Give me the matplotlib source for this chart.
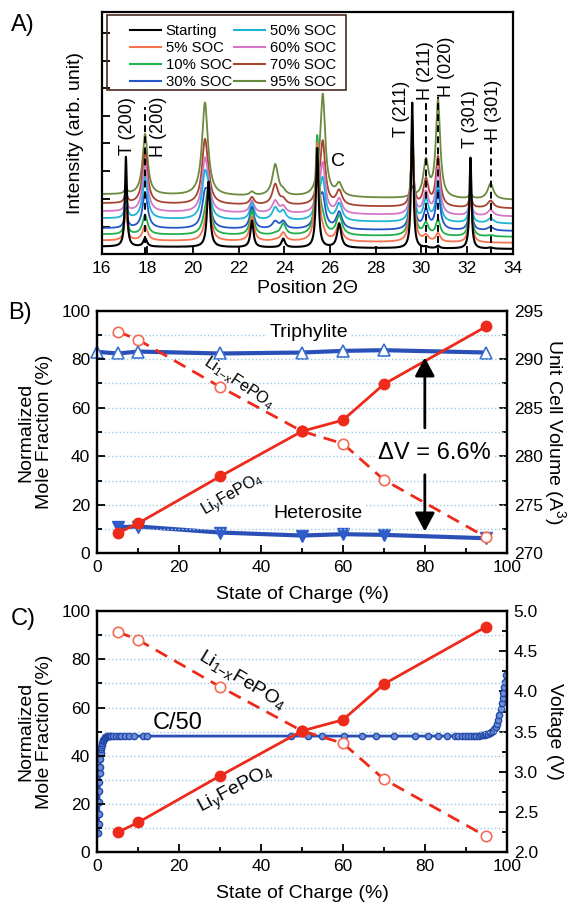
import numpy as np
import matplotlib
matplotlib.use("Agg")
import matplotlib.pyplot as plt
from matplotlib.patches import Rectangle
from matplotlib.lines import Line2D
from matplotlib.ticker import MultipleLocator, FormatStrFormatter

plt.rcParams['font.family'] = ['Liberation Sans', 'DejaVu Sans']
plt.rcParams['mathtext.fontset'] = 'custom'
plt.rcParams['mathtext.rm'] = 'Liberation Sans'
plt.rcParams['mathtext.it'] = 'Liberation Sans:italic'
plt.rcParams['mathtext.default'] = 'regular'

# ---------------- XRD patterns (panel A) ----------------
pattern_labels = ['Starting', '5% SOC', '10% SOC', '30% SOC',
                  '50% SOC', '60% SOC', '70% SOC', '95% SOC']
pattern_colors = ['#000000', '#f5734f', '#22b04c', '#2456c8',
                  '#1fb5d8', '#d776c8', '#a8432f', '#6a8a3e']
base_left = [3.2, 5.7, 8.2, 10.7, 14.8, 17.7, 21.0, 24.7]
base_right = [2.2, 4.7, 7.2, 9.6, 12.6, 15.6, 18.9, 22.4]
width_scale = [1.3, 1.9, 1.9, 1.9, 1.9, 1.9, 1.9, 1.9]

peak_pos = [17.06, 17.90, 20.52, 20.68, 22.58, 23.60, 23.95, 25.44,
            25.68, 26.40, 29.60, 30.20, 30.73, 32.15, 33.03]
peak_hwhm = [0.04, 0.07, 0.08, 0.06, 0.06, 0.08, 0.07, 0.05,
             0.07, 0.08, 0.04, 0.07, 0.06, 0.04, 0.08]
peak_heights = [
    [37, 3.5, 0, 27, 11, 0, 3.6, 41, 0, 10, 60, 0.5, 1, 37.5, 0.5],   # Starting
    [12, 6, 2, 20, 10, 0.5, 3.5, 40, 2, 7, 50, 2.5, 3.5, 20, 0],       # 5%
    [10, 8, 5, 18, 10, 0.5, 4.7, 40, 5, 8, 45, 5, 6.5, 18, 0.5],       # 10%
    [8, 15, 13, 10, 9, 3, 3, 22, 12, 7, 38, 8, 16, 15, 1.5],           # 30%
    [7, 17, 18, 7, 7, 5, 3.5, 14, 16, 7, 33, 9, 16.6, 12, 2],          # 50%
    [5, 20, 21, 5, 5, 5, 2.5, 9, 20, 6, 28, 9, 19, 8, 2.5],            # 60%
    [4, 22, 26, 3, 3, 8.5, 2, 6, 26, 6, 22, 11, 20.5, 5, 3],           # 70%
    [2, 25, 38, 1, 1.5, 13, 1.5, 3, 42, 5, 4, 15, 40, 2, 6.5],         # 95%
]

peak_tags = ['T (200)', 'H (200)', 'T (211)', 'H (211)', 'H (020)', 'T (301)', 'H (301)']
tag_x = [17.13, 18.50, 29.11, 30.16, 31.08, 32.13, 33.18]
tag_y = [40.9, 40.2, 48.5, 63.6, 65.0, 43.7, 47.1]
het_line_x = [17.90, 30.19, 30.73, 33.06]
het_line_top = [60.8, 63.6, 65.0, 47.1]

# ---------------- phase fractions / cell volumes (panels B, C) ----------------
soc = [5, 10, 30, 50, 60, 70, 95]
li1x_frac = [91.4, 88.0, 68.6, 50.3, 45.2, 30.3, 6.6]
liy_frac = [8.3, 12.4, 31.7, 50.3, 54.9, 69.7, 93.5]

tri_vol_soc = [0, 5, 10, 30, 50, 60, 70, 95]
tri_vol = [290.76, 290.59, 290.79, 290.59, 290.69, 290.86, 290.93, 290.69]
het_vol_soc = [5, 10, 30, 50, 60, 70, 95]
het_vol = [272.69, 272.76, 272.14, 271.83, 271.97, 271.90, 271.55]

# C/50 charge curve
volt_soc = [0.25, 0.3, 0.35, 0.4, 0.45, 0.5, 0.55, 0.6, 0.7, 0.8, 0.9, 1.0,
            1.1, 1.2, 1.35, 1.5, 1.65, 1.8, 2.0, 2.2, 2.4, 2.6, 2.8, 3.0,
            3.4, 3.9, 4.5, 5.2, 5.9, 6.7, 7.8, 9.0, 11.2, 12.1, 47.4, 51.5,
            55.0, 60.2, 64.6, 68.1, 72.5, 77.6, 80.8, 83.3, 85.4, 87.4, 88.2,
            89.0, 89.8, 90.6, 91.3, 92.0, 92.6, 93.2, 93.7, 94.2, 94.6, 95.0,
            95.4, 95.8, 96.2, 96.6, 97.0, 97.3, 97.6, 97.9, 98.2, 98.5, 98.8,
            99.0, 99.2, 99.4, 99.6, 99.8]
volt = [2.24, 2.35, 2.48, 2.62, 2.76, 2.88, 2.98, 3.06, 3.16, 3.23, 3.28, 3.31,
        3.34, 3.36, 3.385, 3.40, 3.41, 3.42, 3.43, 3.435, 3.44, 3.442, 3.444, 3.445,
        3.445, 3.445, 3.445, 3.445, 3.445, 3.445, 3.445, 3.445, 3.445, 3.445, 3.445, 3.445,
        3.445, 3.445, 3.445, 3.445, 3.445, 3.445, 3.445, 3.445, 3.445, 3.445, 3.445,
        3.445, 3.446, 3.446, 3.447, 3.448, 3.45, 3.452, 3.455, 3.457, 3.46, 3.465,
        3.47, 3.48, 3.49, 3.51, 3.53, 3.56, 3.60, 3.65, 3.71, 3.78, 3.86,
        3.92, 3.98, 4.05, 4.12, 4.20]

RED = '#ee2a1a'
RED_OPEN = '#f36a55'
BLUE = '#2a50b8'
GRID = '#9ccbe6'

W, H = 577, 907
fig = plt.figure(figsize=(W / 100, H / 100), dpi=100)


def px_axes(left, top, right, bottom):
    return fig.add_axes([left / W, 1 - bottom / H, (right - left) / W, (bottom - top) / H])


def style_ticks(ax):
    ax.tick_params(which='both', direction='in', width=1.3, labelsize=12.5, pad=5)
    ax.tick_params(which='major', length=6)
    ax.tick_params(which='minor', length=3.5)
    for s in ax.spines.values():
        s.set_linewidth(1.6)


# ---------------- Panel A ----------------
axA = px_axes(101.7, 11.7, 512.7, 254.3)
two_theta = np.linspace(16, 34, 3601)


def pattern(i):
    y = np.interp(two_theta, [16, 34], [base_left[i], base_right[i]])
    for p, w, h in zip(peak_pos, peak_hwhm, peak_heights[i]):
        w = w * width_scale[i]
        y = y + h / (1 + ((two_theta - p) / w) ** 2)
    return y


for i in reversed(range(len(pattern_labels))):
    axA.plot(two_theta, pattern(i), color=pattern_colors[i],
             lw=1.5 if i == 0 else 1.3)

axA.vlines(het_line_x, 0, het_line_top, colors='k', lw=1.4, linestyles=(0, (3.5, 2.2)))
for tag, tx, ty in zip(peak_tags, tag_x, tag_y):
    axA.text(tx, ty, tag, rotation=90, ha='center', va='bottom', fontsize=13)
axA.text(26.37, 38.2, 'C', ha='center', va='center', fontsize=14)

axA.set_xlim(16, 34)
axA.set_ylim(0, 100)
axA.xaxis.set_major_locator(MultipleLocator(2))
axA.set_yticks([11.3, 22.8, 34.3, 45.9, 57.0, 68.5, 79.7, 91.2])
axA.set_yticklabels([])
style_ticks(axA)
axA.set_xlabel('Position 2Θ', fontsize=14, labelpad=3)
axA.set_ylabel('Intensity (arb. unit)', fontsize=14, labelpad=8)

handles = [Line2D([], [], color=c, lw=1.5) for c in pattern_colors]
axA.legend(handles, pattern_labels, ncol=2, loc='upper left',
           bbox_to_anchor=(0.069, 0.95), borderaxespad=0, borderpad=0,
           frameon=False, fontsize=10.7, handlelength=2.1, handletextpad=0.3,
           columnspacing=0.15, labelspacing=0.2)
axA.add_patch(Rectangle((0.0122, 0.679), 0.582, 0.307, transform=axA.transAxes,
                        fill=False, edgecolor='#4a2a20', lw=1.2, zorder=5))

# ---------------- Panel B ----------------
axB = px_axes(97.3, 310.7, 506.7, 553.3)
axB2 = axB.twinx()
axB.set_zorder(axB2.get_zorder() + 1)
axB.patch.set_visible(False)

axB2.plot(tri_vol_soc, tri_vol, '-^', color=BLUE, lw=3, ms=8,
          mfc='white', mec='#3a70d0', mew=1.2, clip_on=False)
axB2.plot(het_vol_soc, het_vol, '-v', color=BLUE, lw=3, ms=8,
          mfc='#2f5cc8', mec='#2f5cc8')
axB2.set_ylim(270, 295)
axB2.yaxis.set_major_locator(MultipleLocator(5))
axB2.yaxis.set_minor_locator(MultipleLocator(2.5))
style_ticks(axB2)
axB2.set_ylabel('Unit Cell Volume (A$^3$)', fontsize=14, rotation=270, labelpad=18)

axB.plot(soc, li1x_frac, color=RED, lw=2, dashes=(4.7, 2.9), marker='o', ms=7.5,
         mfc='white', mec=RED_OPEN, mew=1.2)
axB.plot(soc, liy_frac, '-o', color=RED, lw=2, ms=7.5, mfc=RED, mec=RED)
axB.set_xlim(0, 100)
axB.set_ylim(0, 100)
axB.xaxis.set_major_locator(MultipleLocator(20))
axB.xaxis.set_minor_locator(MultipleLocator(10))
axB.yaxis.set_major_locator(MultipleLocator(20))
axB.yaxis.set_minor_locator(MultipleLocator(10))
axB.yaxis.grid(True, which='both', ls=':', color=GRID, lw=1.0)
axB.set_axisbelow(True)
style_ticks(axB)
axB.tick_params(right=False, top=False, which='both')
axB.set_xlabel('State of Charge (%)', fontsize=14, labelpad=8)
axB.set_ylabel('Normalized\nMole Fraction (%)', fontsize=14, labelpad=6, linespacing=1.1)

white_box = dict(facecolor='white', edgecolor='none', pad=1.5)
axB.text(51.6, 91.0, 'Triphylite', ha='center', va='center', fontsize=14, bbox=white_box)
axB.text(53.8, 16.6, 'Heterosite', ha='center', va='center', fontsize=14, bbox=white_box)
axB.text(34.5, 70.3, r'Li$_{1\mathrm{-}x}$FePO$_4$', ha='center', va='center',
         fontsize=11.5, rotation=-34)
axB.text(33.1, 24.1, r'Li$_y$FePO$_4$', ha='center', va='center',
         fontsize=11.5, rotation=30)
axB.text(82.4, 41.4, 'ΔV = 6.6%', ha='center', va='center', fontsize=17, bbox=white_box)
arrow = dict(arrowstyle='-|>,head_width=0.4,head_length=0.75', color='k', lw=2,
             mutation_scale=15, shrinkA=0, shrinkB=0)
axB.annotate('', xy=(80, 80.7), xytext=(80, 51.7), arrowprops=arrow)
axB.annotate('', xy=(80, 9.0), xytext=(80, 32.4), arrowprops=arrow)

# ---------------- Panel C ----------------
axC = px_axes(97.3, 611.0, 506.7, 852.3)
axC2 = axC.twinx()
axC.set_zorder(axC2.get_zorder() + 1)
axC.patch.set_visible(False)

axC2.plot(volt_soc, volt, '-o', color=BLUE, lw=2, ms=4.5,
          mfc='#6d8fd8', mec='#2448a8', mew=1.0)
axC2.set_ylim(2.0, 5.0)
axC2.yaxis.set_major_locator(MultipleLocator(0.5))
axC2.yaxis.set_minor_locator(MultipleLocator(0.25))
axC2.yaxis.set_major_formatter(FormatStrFormatter('%.1f'))
style_ticks(axC2)
axC2.set_ylabel('Voltage (V)', fontsize=14, rotation=270, labelpad=18)

axC.plot(soc, li1x_frac, color=RED, lw=2, dashes=(4.7, 2.9), marker='o', ms=7.5,
         mfc='white', mec=RED_OPEN, mew=1.2)
axC.plot(soc, liy_frac, '-o', color=RED, lw=2, ms=7.5, mfc=RED, mec=RED)
axC.set_xlim(0, 100)
axC.set_ylim(0, 100)
axC.xaxis.set_major_locator(MultipleLocator(20))
axC.xaxis.set_minor_locator(MultipleLocator(10))
axC.yaxis.set_major_locator(MultipleLocator(20))
axC.yaxis.set_minor_locator(MultipleLocator(10))
axC.yaxis.grid(True, which='both', ls=':', color=GRID, lw=1.0)
style_ticks(axC)
axC.tick_params(right=False, top=False, which='both')
axC.set_xlabel('State of Charge (%)', fontsize=14, labelpad=8)
axC.set_ylabel('Normalized\nMole Fraction (%)', fontsize=14, labelpad=6, linespacing=1.1)

axC.text(19.6, 53.5, 'C/50', ha='center', va='center', fontsize=17)
axC.text(35.4, 71.4, r'Li$_{1\mathrm{-}x}$FePO$_4$', ha='center', va='center',
         fontsize=14, rotation=-31)
axC.text(34.0, 25.8, r'Li$_y$FePO$_4$', ha='center', va='center',
         fontsize=14, rotation=28)

# panel letters
fig.text(10.7 / W, 1 - 25 / H, 'A)', fontsize=17, va='center')
fig.text(8.2 / W, 1 - 312.5 / H, 'B)', fontsize=17, va='center')
fig.text(11.0 / W, 1 - 619 / H, 'C)', fontsize=17, va='center')

fig.savefig('out.png', dpi=100)
